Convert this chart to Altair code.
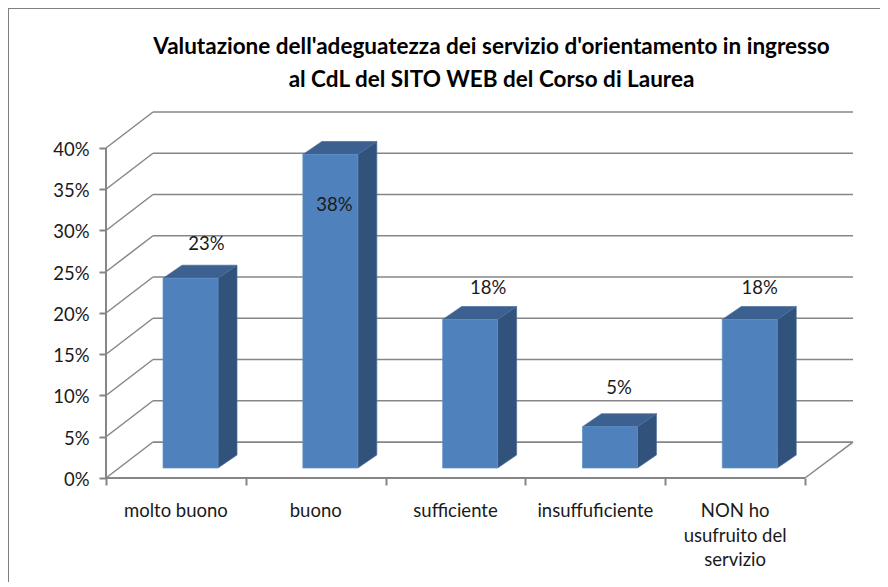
import altair as alt
import pandas as pd

categories = ["molto buono", "buono", "sufficiente", "insuffuficiente", "NON ho\nusufruito del\nservizio"]
values = [23, 38, 18, 5, 18]
labels = ["23%", "38%", "18%", "5%", "18%"]
y_ticks = [0, 5, 10, 15, 20, 25, 30, 35, 40]
x_ticks = [0, 1, 2, 3, 4, 5]
title_lines = ["Valutazione dell'adeguatezza dei servizio d'orientamento in ingresso",
               "al CdL del SITO WEB del Corso di Laurea"]

# projection of the 3-D box, in scale units
WALL_DX, WALL_DY = 0.336, 4.36
BAR_DX, BAR_DY = 0.136, 1.576
BAR_LEFT, BAR_W, BAR_BASE = 0.408, 0.393, 1.212
X_MAX, Y_MAX = 5.343, 44.36
# hand-placed data label offsets, pixels from the top centre of the bar's front
LABEL_OFFSETS = [(16, -34), (4, 51), (18, -31), (9, -39), (10, -31)]

GRID = "#868686"
TEXT = "#1a1a1a"
FONT = "Lato"
FS = 18.5
x_scale = alt.Scale(domain=[0, X_MAX], nice=False, zero=False)
y_scale = alt.Scale(domain=[0, Y_MAX], nice=False, zero=False)
x_axis = alt.Axis(values=x_ticks, labels=False, domain=False, grid=False,
                  tickColor=GRID, tickWidth=2, tickSize=7, title=None)
y_axis = alt.Axis(values=y_ticks, labelExpr="datum.value + '%'", domain=False, grid=False,
                  tickColor=GRID, tickWidth=2, tickSize=7, labelPadding=10, labelOffset=1.5, title=None,
                  labelFont=FONT, labelFontSize=FS, labelColor=TEXT)

def X(f="x"):
    return alt.X(f, type="quantitative", scale=x_scale, axis=x_axis)

def Y(f="y"):
    return alt.Y(f, type="quantitative", scale=y_scale, axis=y_axis)

# back wall grid lines
wall = pd.DataFrame({"y": [v + WALL_DY for v in y_ticks], "x": WALL_DX, "x2": X_MAX})
wall_rules = alt.Chart(wall).mark_rule(color=GRID, strokeWidth=1.7).encode(
    x=X(), x2="x2:Q", y=Y())

# side wall diagonals and floor edge
diag_rows = []
for v in y_ticks:
    diag_rows += [{"k": v, "x": 0, "y": v}, {"k": v, "x": WALL_DX, "y": v + WALL_DY}]
diag_rows += [{"k": "floor", "x": 5, "y": 0}, {"k": "floor", "x": X_MAX, "y": WALL_DY}]
diagonals = alt.Chart(pd.DataFrame(diag_rows)).mark_line(color=GRID, strokeWidth=1.5).encode(
    x=X(), y=Y(), detail="k:N")

# front axis lines
y_axis_line = alt.Chart(pd.DataFrame({"x": [0], "y": [0], "y2": [40]})).mark_rule(
    color=GRID, strokeWidth=2).encode(x=X(), y=Y(), y2="y2:Q")
x_axis_line = alt.Chart(pd.DataFrame({"x": [0], "x2": [5], "y": [0]})).mark_rule(
    color=GRID, strokeWidth=2).encode(x=X(), x2="x2:Q", y=Y())

# bars
front, side, top = [], [], []
for i, v in enumerate(values):
    x0 = i + BAR_LEFT
    x1 = x0 + BAR_W
    base = BAR_BASE
    tip = v + BAR_BASE
    front.append({"x": x0, "x2": x1, "y": base, "y2": tip})
    side += [{"c": i, "x": x1, "y": base, "y2": tip},
             {"c": i, "x": x1 + BAR_DX, "y": base + BAR_DY, "y2": tip + BAR_DY}]
    top += [{"c": i, "y": tip, "x": x0, "x2": x1},
            {"c": i, "y": tip + BAR_DY, "x": x0 + BAR_DX, "x2": x1 + BAR_DX}]

side_faces = alt.Chart(pd.DataFrame(side)).mark_area(
    color="#31527B", stroke="#4a6d9c", strokeWidth=0.7).encode(
    x=X(), y=Y(), y2="y2:Q", detail="c:N")
top_faces = alt.Chart(pd.DataFrame(top)).mark_area(
    orient="horizontal", color="#3C6190", stroke="#4a6d9c", strokeWidth=0.7).encode(
    y=Y(), x=X(), x2="x2:Q", detail="c:N")
front_faces = alt.Chart(pd.DataFrame(front)).mark_rect(
    color="#4F81BD", stroke="#5f8fc8", strokeWidth=0.7).encode(
    x=X(), x2="x2:Q", y=Y(), y2="y2:Q")

# data labels
value_labels = []
for i, (v, t, (dx, dy)) in enumerate(zip(values, labels, LABEL_OFFSETS)):
    value_labels.append(
        alt.Chart(pd.DataFrame({"x": [i + BAR_LEFT + BAR_W / 2], "y": [v + BAR_BASE], "t": [t]}))
        .mark_text(font=FONT, fontSize=FS, color=TEXT, dx=dx, dy=dy)
        .encode(x=X(), y=Y(), text="t:N"))

# category labels
cat_df = pd.DataFrame({"x": [i + 0.5 for i in range(len(categories))], "t": categories})
cat_labels = alt.Chart(cat_df).mark_text(
    font=FONT, fontSize=FS, color=TEXT, lineBreak="\n", lineHeight=24.5, baseline="top"
).encode(x=X(), y=alt.value(390), text="t:N")

# chart frame
frame_left = alt.Chart(pd.DataFrame({"t": ["frame"]})).mark_rule(color="#808080", strokeWidth=2).encode(
    x=alt.value(-98), y=alt.value(-104), y2=alt.value(470), detail="t:N")
frame_top = alt.Chart(pd.DataFrame({"t": ["frame"]})).mark_rule(color="#808080", strokeWidth=2).encode(
    y=alt.value(-104), x=alt.value(-98), x2=alt.value(774), detail="t:N")

chart = alt.layer(
    frame_left, frame_top, wall_rules, diagonals, y_axis_line, x_axis_line,
    side_faces, top_faces, front_faces, *value_labels, cat_labels
).properties(
    width=747, height=366,
    padding={"left": 98, "top": 104, "right": 27, "bottom": 105},
    autosize=alt.AutoSizeParams(type="none"),
    background="white",
    title=alt.TitleParams(title_lines, font=FONT, fontSize=22.5, fontWeight="bold", color="#000000",
                          anchor="middle", dx=12, offset=-84, lineHeight=33),
).configure_view(stroke=None)

chart.save("out.html", embed_options={"renderer": "svg", "actions": False})
